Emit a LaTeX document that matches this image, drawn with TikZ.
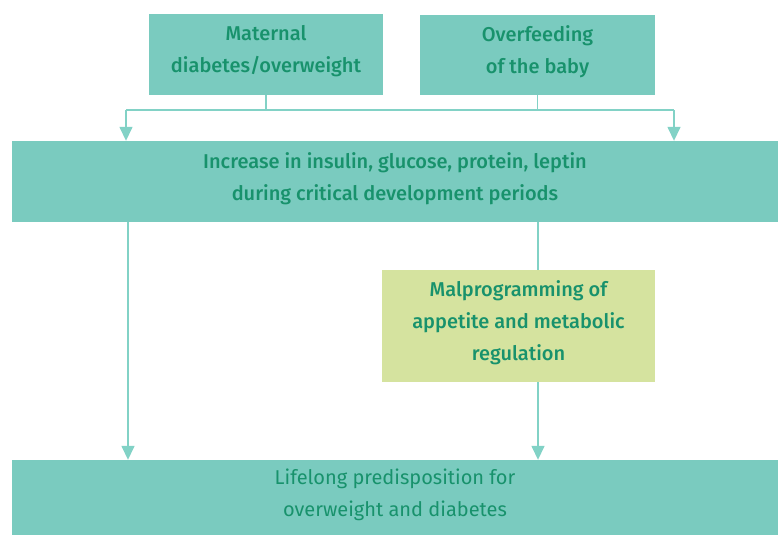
\documentclass[tikz,border=0pt]{standalone}
\usepackage{fontspec}
\setmainfont{Fira Sans}[BoldFont={Fira Sans Medium}]
\usetikzlibrary{arrows.meta}
\definecolor{boxteal}{RGB}{122,203,191}
\definecolor{boxlime}{RGB}{213,227,159}
\definecolor{txtgreen}{RGB}{24,146,108}
\definecolor{linecol}{RGB}{130,210,198}
\begin{document}
\begin{tikzpicture}[x=1pt,y=1pt,
  box/.style={fill=boxteal,draw=none,inner sep=0pt},
  limebox/.style={box,fill=boxlime},
  txt/.style={label={[inner sep=0pt,align=center,text=txtgreen,yshift=3pt,
    font=\fontsize{20}{32}\selectfont]center:{#1}}},
  btxt/.style={label={[inner sep=0pt,align=center,text=txtgreen,yshift=3pt,
    font=\fontsize{20}{32}\selectfont\bfseries]center:{#1}}},
  conn/.style={draw=linecol,line width=1.5pt},
  arr/.style={conn,-{Triangle[width=13pt,length=14pt]},fill=linecol}]
\useasboundingbox (0,0) rectangle (778,-535);
\node[box,minimum width=234pt,minimum height=81pt,
  btxt={Maternal\\diabetes/overweight}] (mat) at (266,-54.5) {};
\node[box,minimum width=235pt,minimum height=80pt,
  btxt={Overfeeding\\of the baby}] (ovf) at (537.5,-55) {};
\node[box,minimum width=766pt,minimum height=81pt,
  btxt={Increase in insulin, glucose, protein, leptin\\during critical development periods}] (inc) at (395,-181.5) {};
\node[limebox,minimum width=273pt,minimum height=112pt,
  btxt={Malprogramming of\\appetite and metabolic\\regulation}] (mal) at (518.5,-326) {};
\node[box,minimum width=766pt,minimum height=75pt,
  txt={Lifelong predisposition for\\overweight and diabetes}] (life) at (395,-497.5) {};
\coordinate (jl) at (126,-110);
\coordinate (jr) at (674,-110);
\coordinate (cl) at (128,0);
\coordinate (cr) at (538,0);
\draw[conn] (mat.south) -- (mat.south |- jl);
\draw[conn] (ovf.south) -- (ovf.south |- jl);
\draw[conn] (jl) -- (jr);
\draw[arr] (jl) -- (jl |- inc.north);
\draw[arr] (jr) -- (jr |- inc.north);
\draw[arr] (inc.south -| cl) -- (life.north -| cl);
\draw[conn] (inc.south -| cr) -- (mal.north -| cr);
\draw[arr] (mal.south -| cr) -- (life.north -| cr);
\end{tikzpicture}
\end{document}
